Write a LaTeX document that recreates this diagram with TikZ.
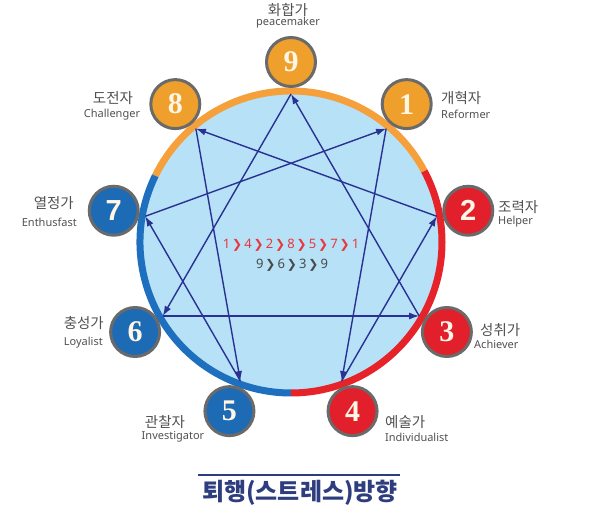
\documentclass[tikz,border=0pt]{standalone}
\usepackage{fontspec}
\setmainfont{Noto Sans}
\newfontfamily\kr{Noto Sans CJK KR}
\newfontfamily\dv{DejaVu Sans}
\newfontfamily\nserif{Liberation Serif}
\newfontfamily\nsans{Liberation Sans}
\usetikzlibrary{arrows.meta,calc}
\definecolor{ringor}{HTML}{F5A03A}
\definecolor{ringred}{HTML}{E52328}
\definecolor{ringblue}{HTML}{1F6FBF}
\definecolor{bador}{HTML}{EFA02C}
\definecolor{badred}{HTML}{E2202B}
\definecolor{badblue}{HTML}{1D6BB5}
\definecolor{badgeborder}{HTML}{6A6A6A}
\definecolor{skyfill}{HTML}{B6E1F7}
\definecolor{navy}{HTML}{2A3192}
\definecolor{titlenavy}{HTML}{2E3D7E}
\definecolor{lblgray}{HTML}{505050}
\definecolor{seqred}{HTML}{E8383D}
\definecolor{seqgray}{HTML}{4A4A4A}
\definecolor{numcream}{HTML}{FFF6E6}
\newcommand\chv{\hspace{2pt}{\dv\fontsize{12}{12}\selectfont ❯}\hspace{2pt}}
\begin{document}
\begin{tikzpicture}[x=1pt,y=1pt,
  ring/.style={line width=7pt},
  badge/.style={circle, draw=badgeborder, line width=3pt, minimum size=49pt, inner sep=0pt, text=numcream},
  sernum/.style={font=\nserif\bfseries\fontsize{30}{30}\selectfont},
  sansnum/.style={font=\nsans\bfseries\fontsize{29}{29}\selectfont},
  krlbl/.style={text=lblgray, font=\kr\fontsize{14.5}{15}\selectfont, inner sep=0pt},
  enlbl/.style={text=lblgray, font=\fontsize{11}{12}\selectfont, inner sep=0pt},
  stress/.style={draw=navy, line width=1.4pt, -{Latex[length=10pt,width=7pt]}}
]
\useasboundingbox (0,0) rectangle (595,506);
\coordinate (C) at (291,264);
% disc
\fill[skyfill] (C) circle[radius=151];
% ring arcs
\draw[ring, ringor] ($(C)+(28:151)$) arc[start angle=28, end angle=154, radius=151];
\draw[ring, ringblue] ($(C)+(154:151)$) arc[start angle=154, end angle=270, radius=151];
\draw[ring, ringred] ($(C)+(270:151)$) arc[start angle=270, end angle=388, radius=151];
% points on circle
\foreach \k in {1,...,9} {
  \coordinate (p\k) at ($(C)+({90-40*\k}:148)$);
  \coordinate (b\k) at ($(C)+({90-40*\k}:180)$);
}
% arrows
\draw[stress] (p1) -- (p4);
\draw[stress] (p4) -- (p2);
\draw[stress] (p2) -- (p8);
\draw[stress] (p8) -- (p5);
\draw[stress] (p5) -- (p7);
\draw[stress] (p7) -- (p1);
\draw[stress] (p9) -- (p6);
\draw[stress] (p6) -- (p3);
\draw[stress] (p3) -- (p9);
% center text
\node[text=seqred, font=\fontsize{13}{14}\selectfont] (seq1) at (291,261) {1\chv 4\chv 2\chv 8\chv 5\chv 7\chv 1};
\node[text=seqgray, font=\fontsize{13}{14}\selectfont] (seq2) at (292,241) {9\chv 6\chv 3\chv 9};
% labels
\node[krlbl] (k9) at (288,496) {화합가};
\node[enlbl] (e9) at (288,483) {peacemaker};
\node[krlbl] (k8) at (113,408) {도전자};
\node[enlbl] (e8) at (112,391) {Challenger};
\node[krlbl, anchor=west] (k1) at (441,408) {개혁자};
\node[enlbl, anchor=west] (e1) at (441,392) {Reformer};
\node[krlbl, anchor=east] (k7) at (74,303) {열정가};
\node[enlbl, anchor=east] (e7) at (77,284) {Enthusfast};
\node[krlbl, anchor=west] (k2) at (498,299) {조력자};
\node[enlbl, anchor=west] (e2) at (498,284) {Helper};
\node[krlbl, anchor=east] (k6) at (104,183) {충성가};
\node[enlbl, anchor=east] (e6) at (103,163) {Loyalist};
\node[krlbl, anchor=west] (k3) at (480,176) {성취가};
\node[enlbl, anchor=west] (e3) at (474,162) {Achiever};
\node[krlbl] (k5) at (165,84) {관찰자};
\node[enlbl] (e5) at (173,69) {Investigator};
\node[krlbl, anchor=west] (k4) at (385,84) {예술가};
\node[enlbl, anchor=west] (e4) at (385,69) {Individualist};
% badges
\node[badge, fill=bador, sernum] (n9) at (b9) {9};
\node[badge, fill=bador, sernum] (n1) at (b1) {1};
\node[badge, fill=badred, sansnum] (n2) at (b2) {2};
\node[badge, fill=badred, sernum] (n3) at (b3) {3};
\node[badge, fill=badred, sernum] (n4) at (b4) {4};
\node[badge, fill=badblue, sernum] (n5) at (b5) {5};
\node[badge, fill=badblue, sernum] (n6) at (b6) {6};
\node[badge, fill=badblue, sansnum] (n7) at (b7) {7};
\node[badge, fill=bador, sernum] (n8) at (b8) {8};
% title
\coordinate (tl) at (198,31);
\coordinate (tr) at (400,31);
\draw[titlenavy, line width=1.8pt] (tl) -- (tr);
\node[text=titlenavy, font=\kr\bfseries\fontsize{24}{25}\selectfont] (title) at (300,13) {퇴행(스트레스)방향};
\end{tikzpicture}
\end{document}
